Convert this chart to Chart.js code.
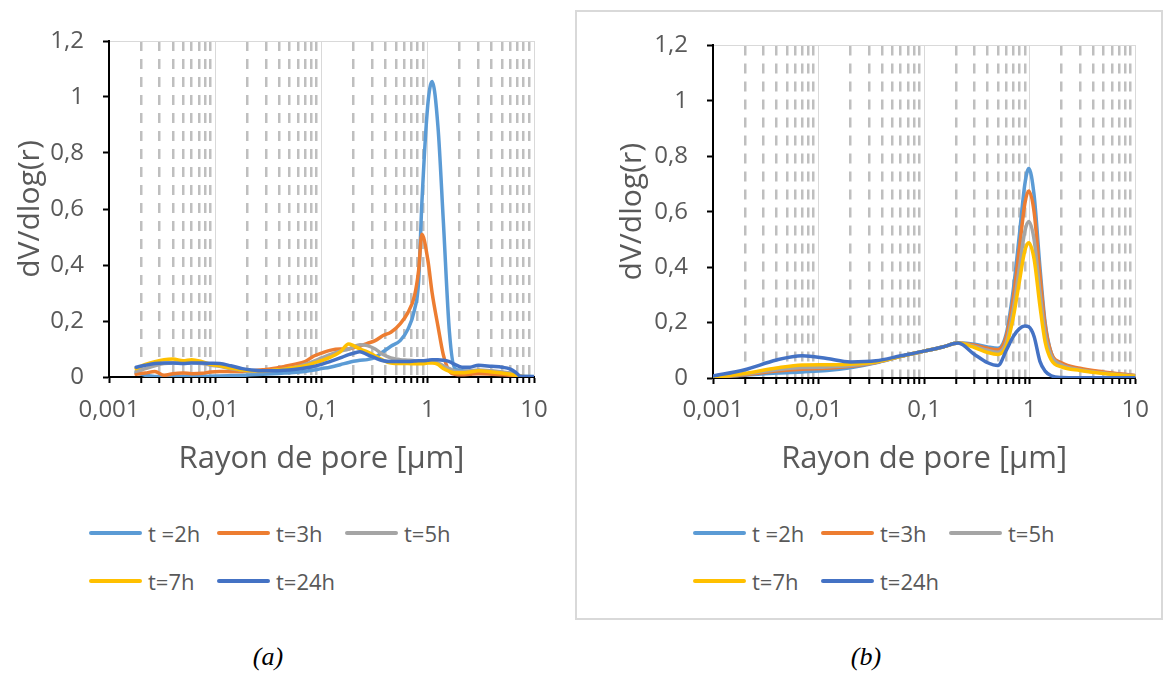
<!DOCTYPE html>
<html>
<head>
<meta charset="utf-8">
<script src="https://cdn.jsdelivr.net/npm/chart.js@4.4.1/dist/chart.umd.min.js"></script>
<style>
  body { margin: 0; background: #fff; width: 1166px; height: 673px; position: relative; overflow: hidden; font-family: 'Open Sans', sans-serif; }
  .panel { position: absolute; }
  #panelA { left: 0; top: 0; width: 572px; height: 630px; }
  #panelB { left: 575px; top: 10px; width: 588px; height: 610px; border: 2px solid #d9d9d9; box-sizing: border-box; }
  canvas { position: absolute; left: 0; top: 0; }
  .legend { position: absolute; display: grid; grid-template-columns: repeat(3, 128px); grid-auto-rows: 48px; color: #595959; font-size: 22px; }
  .legend .item { display: flex; align-items: center; white-space: nowrap; }
  .legend .sw { width: 53px; height: 4px; border-radius: 2px; margin-right: 6px; }
  #legendA { left: 89px; top: 509px; }
  #legendB { left: 116px; top: 497px; }
  .cap { position: absolute; top: 642px; width: 100px; text-align: center; font-family: 'Liberation Serif', 'DejaVu Serif', serif; font-style: italic; font-size: 26px; line-height: 30px; color: #000; }
</style>
</head>
<body>
<div class="panel" id="panelA">
  <canvas id="chartA" width="572" height="490"></canvas>
  <div class="legend" id="legendA"></div>
</div>
<div class="panel" id="panelB">
  <canvas id="chartB" width="584" height="490"></canvas>
  <div class="legend" id="legendB"></div>
</div>
<div class="cap" style="left:218px">(a)</div>
<div class="cap" style="left:816px">(b)</div>

<script>
// series names and colours (Excel default palette)
const seriesLabels = ['t =2h', 't=3h', 't=5h', 't=7h', 't=24h'];
const seriesColors = ['#5b9bd5', '#ed7d31', '#a5a5a5', '#ffc000', '#4472c4'];

// axis ticks
const xDecades = [0.001, 0.01, 0.1, 1, 10];
const xTickLabels = ['0,001', '0,01', '0,1', '1', '10'];
const yTickValues = [0, 0.2, 0.4, 0.6, 0.8, 1, 1.2];
const yTickLabels = ['0', '0,2', '0,4', '0,6', '0,8', '1', '1,2'];
const xTitle = 'Rayon de pore [µm]';
const yTitle = 'dV/dlog(r)';

// (a) pore radius (µm) and dV/dlog(r)
const rayonA = [0.0018, 0.0022, 0.0027, 0.0033, 0.004, 0.005, 0.006, 0.0075, 0.009, 0.011, 0.014, 0.018, 0.022, 0.028, 0.035, 0.045, 0.055, 0.07, 0.085, 0.1,
  0.12, 0.15, 0.18, 0.2, 0.23, 0.27, 0.32, 0.38, 0.45, 0.55, 0.65, 0.75, 0.82, 0.88, 1.0, 1.1, 1.25, 1.4, 1.6, 1.8, 2.1, 2.5, 3, 4, 5, 6, 6.8, 7.5, 10];
const t2hA = [0.015, 0.006, 0.002, 0.002, 0.002, 0.002, 0.002, 0.003, 0.003, 0.004, 0.005, 0.006, 0.008, 0.010, 0.012, 0.014, 0.016, 0.020, 0.025, 0.030,
  0.035, 0.044, 0.052, 0.056, 0.060, 0.062, 0.070, 0.090, 0.110, 0.130, 0.170, 0.240, 0.340, 0.620, 0.970, 1.055, 0.890, 0.560, 0.160, 0.030, 0.022, 0.020, 0.020, 0.020, 0.016, 0.012, 0.008, 0.004, 0.002];
const t3hA = [0.010, 0.014, 0.020, 0.006, 0.012, 0.014, 0.012, 0.013, 0.018, 0.020, 0.020, 0.020, 0.022, 0.026, 0.030, 0.038, 0.045, 0.055, 0.075, 0.085,
  0.095, 0.100, 0.100, 0.105, 0.110, 0.120, 0.130, 0.148, 0.160, 0.190, 0.230, 0.290, 0.380, 0.510, 0.420, 0.300, 0.180, 0.080, 0.020, 0.010, 0.008, 0.010, 0.012, 0.010, 0.008, 0.006, 0.004, 0.002, 0.001];
const t5hA = [0.020, 0.030, 0.040, 0.048, 0.050, 0.050, 0.052, 0.048, 0.042, 0.038, 0.030, 0.024, 0.020, 0.020, 0.023, 0.028, 0.034, 0.045, 0.057, 0.068,
  0.080, 0.092, 0.100, 0.108, 0.115, 0.112, 0.100, 0.080, 0.068, 0.062, 0.060, 0.058, 0.056, 0.055, 0.055, 0.055, 0.050, 0.040, 0.030, 0.022, 0.020, 0.022, 0.025, 0.022, 0.018, 0.014, 0.008, 0.003, 0.001];
const t7hA = [0.030, 0.045, 0.055, 0.062, 0.064, 0.058, 0.062, 0.055, 0.045, 0.040, 0.032, 0.025, 0.022, 0.022, 0.024, 0.028, 0.033, 0.040, 0.050, 0.058,
  0.070, 0.090, 0.118, 0.112, 0.100, 0.090, 0.075, 0.060, 0.050, 0.048, 0.048, 0.047, 0.047, 0.047, 0.050, 0.050, 0.045, 0.030, 0.020, 0.015, 0.015, 0.018, 0.022, 0.018, 0.014, 0.010, 0.006, 0.002, 0.001];
const t24hA = [0.035, 0.042, 0.048, 0.050, 0.050, 0.048, 0.050, 0.050, 0.049, 0.048, 0.040, 0.030, 0.025, 0.022, 0.022, 0.024, 0.027, 0.032, 0.038, 0.045,
  0.055, 0.068, 0.080, 0.085, 0.090, 0.080, 0.068, 0.058, 0.055, 0.055, 0.055, 0.057, 0.058, 0.058, 0.060, 0.062, 0.062, 0.060, 0.055, 0.045, 0.035, 0.035, 0.042, 0.038, 0.035, 0.028, 0.015, 0.002, 0.001];

// (b)
const rayonB = [0.001, 0.002, 0.004, 0.007, 0.012, 0.02, 0.035, 0.06, 0.1, 0.15, 0.21, 0.3, 0.4, 0.5, 0.6, 0.7, 0.8, 0.9, 0.98, 1.1, 1.25, 1.4, 1.6, 2, 3, 5, 10];
const t2hB = [0.003, 0.010, 0.018, 0.022, 0.027, 0.037, 0.055, 0.078, 0.097, 0.112, 0.126, 0.122, 0.112, 0.107, 0.160, 0.320, 0.520, 0.700, 0.756, 0.660, 0.400, 0.200, 0.090, 0.050, 0.032, 0.020, 0.008];
const t3hB = [0.002, 0.012, 0.025, 0.032, 0.035, 0.042, 0.056, 0.078, 0.097, 0.112, 0.126, 0.118, 0.107, 0.102, 0.150, 0.290, 0.470, 0.630, 0.675, 0.600, 0.370, 0.190, 0.090, 0.055, 0.035, 0.022, 0.009];
const t5hB = [0.002, 0.014, 0.030, 0.038, 0.040, 0.045, 0.057, 0.078, 0.097, 0.112, 0.126, 0.114, 0.100, 0.093, 0.130, 0.250, 0.400, 0.530, 0.565, 0.500, 0.310, 0.160, 0.080, 0.048, 0.030, 0.018, 0.007];
const t7hB = [0.002, 0.016, 0.036, 0.047, 0.048, 0.050, 0.058, 0.078, 0.097, 0.112, 0.126, 0.110, 0.092, 0.085, 0.115, 0.220, 0.350, 0.460, 0.488, 0.430, 0.260, 0.130, 0.065, 0.040, 0.027, 0.016, 0.006];
const t24hB = [0.007, 0.030, 0.065, 0.080, 0.070, 0.058, 0.062, 0.080, 0.097, 0.112, 0.126, 0.085, 0.055, 0.045, 0.100, 0.150, 0.178, 0.188, 0.185, 0.150, 0.060, 0.025, 0.008, 0.002, 0.001, 0.001, 0.001];

// log ticks: decades + 2..9 in between
const xTickValues = [];
xDecades.forEach((d, i) => {
  xTickValues.push(d);
  if (i < xDecades.length - 1) {
    for (let m = 2; m <= 9; m++) xTickValues.push(Number((m * d).toPrecision(6)));
  }
});

Chart.defaults.font.family = "'Open Sans', sans-serif";
Chart.defaults.color = '#595959';

// legend drawn as html below the canvas (Excel puts it in a fixed grid)
const htmlLegend = {
  id: 'htmlLegend',
  afterUpdate(chart, args, opts) {
    const box = document.getElementById(opts.containerID);
    box.innerHTML = '';
    chart.data.datasets.forEach(ds => {
      const item = document.createElement('div');
      item.className = 'item';
      const sw = document.createElement('span');
      sw.className = 'sw';
      sw.style.background = ds.borderColor;
      const txt = document.createElement('span');
      txt.textContent = ds.label;
      item.append(sw, txt);
      box.append(item);
    });
  }
};

const isMinor = c => c.tick && !c.tick.major;

function makeChart(canvasId, legendId, xs, series, geo) {
  const datasets = series.map((vals, i) => ({
    label: seriesLabels[i],
    data: xs.map((x, k) => ({ x, y: vals[k] })),
    borderColor: seriesColors[i],
    backgroundColor: seriesColors[i],
    borderWidth: 3.5,
    pointRadius: 0,
    cubicInterpolationMode: 'monotone',
    borderCapStyle: 'round',
    borderJoinStyle: 'round',
    fill: false,
    xAxisID: 'x',
    yAxisID: 'y',
    order: series.length - i   // later series on top, like excel
  }));

  return new Chart(document.getElementById(canvasId), {
    type: 'line',
    data: { datasets },
    options: {
      responsive: false,
      animation: false,
      layout: { padding: { left: 0, top: geo.top, right: geo.right, bottom: geo.bottom } },
      plugins: {
        legend: { display: false },
        tooltip: { enabled: false },
        htmlLegend: { containerID: legendId }
      },
      scales: {
        x: {
          type: 'logarithmic',
          position: 'bottom',
          min: 0.001,
          max: 10,
          afterBuildTicks: s => { s.ticks = xTickValues.map(v => ({ value: v, major: xDecades.includes(v) })); },
          afterFit: s => { s.height = geo.xAxisH; },
          ticks: {
            autoSkip: false,
            maxRotation: 0,
            padding: geo.xPad,
            font: { size: 24 },
            color: '#595959',
            callback: v => {
              const k = xDecades.indexOf(v);
              return k < 0 ? '' : xTickLabels[k];
            }
          },
          grid: {
            color: c => isMinor(c) ? '#bfbfbf' : '#d9d9d9',
            lineWidth: c => isMinor(c) ? 2.5 : 1,
            tickLength: 6,
            tickColor: '#000',
            tickWidth: 2
          },
          border: { display: true, color: '#000', width: 2, dash: c => isMinor(c) ? [10, 8] : [] },
          title: { display: true, text: xTitle, font: { size: 31 }, color: '#595959', padding: { top: 0, bottom: 0 } }
        },
        xTop: {
          type: 'linear',
          axis: 'x',
          position: 'top',
          ticks: { display: false },
          grid: { display: false, drawTicks: false },
          border: { display: true, color: '#d9d9d9', width: 1 }
        },
        y: {
          min: 0,
          max: 1.2,
          afterBuildTicks: s => { s.ticks = yTickValues.map(v => ({ value: v })); },
          afterFit: s => { s.width = geo.yAxisW; },
          ticks: {
            padding: geo.yPad,
            font: { size: 24 },
            color: '#595959',
            callback: (v, i) => yTickLabels[i]
          },
          grid: { drawOnChartArea: false, tickLength: 6, tickColor: '#000', tickWidth: 2 },
          border: { color: '#000', width: 2 },
          title: { display: true, text: yTitle, font: { size: 30 }, color: '#595959', padding: { top: geo.yTitlePad, bottom: 0 } }
        }
      }
    },
    plugins: [htmlLegend]
  });
}

makeChart('chartA', 'legendA', rayonA, [t2hA, t3hA, t5hA, t7hA, t24hA],
  { top: 41, right: 38, bottom: 12, xAxisH: 101, yAxisW: 109, xPad: 13, yPad: 19, yTitlePad: 12 });
makeChart('chartB', 'legendB', rayonB, [t2hB, t3hB, t5hB, t7hB, t24hB],
  { top: 30, right: 22, bottom: 24, xAxisH: 100, yAxisW: 136, xPad: 12, yPad: 19, yTitlePad: 37 });
</script>
</body>
</html>
